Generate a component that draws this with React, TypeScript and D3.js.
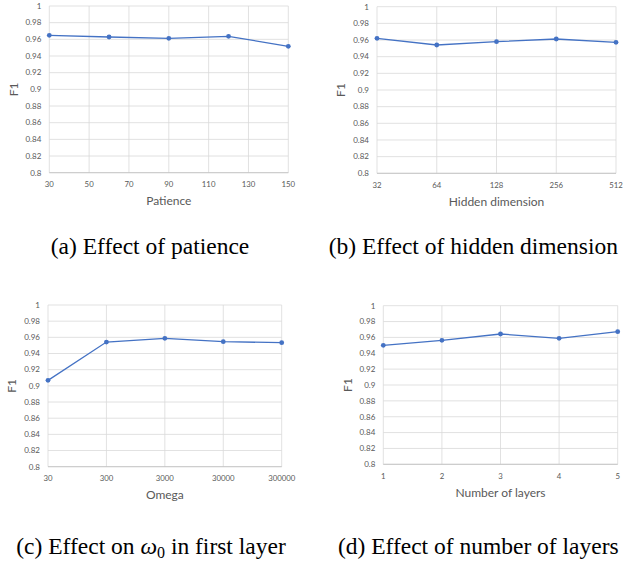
import * as d3 from 'd3';

const yTicks = [0.8, 0.82, 0.84, 0.86, 0.88, 0.9, 0.92, 0.94, 0.96, 0.98, 1];

const patience = [30, 60, 90, 120, 150];
const patienceTicks = [30, 50, 70, 90, 110, 130, 150];
const patienceF1 = [0.9648, 0.9628, 0.9612, 0.9636, 0.9516];

const hidden = ['32', '64', '128', '256', '512'];
const hiddenF1 = [0.962, 0.954, 0.958, 0.9612, 0.9572];

const omega = ['30', '300', '3000', '30000', '300000'];
const omegaF1 = [0.9068, 0.9542, 0.9588, 0.9546, 0.9534];

const layers = ['1', '2', '3', '4', '5'];
const layersF1 = [0.95, 0.9563, 0.9643, 0.9588, 0.9672];

const lineColor = '#4472C4';
const gridColor = '#d9d9d9';
const textColor = '#595959';
const chartFont = 'Lato, "Open Sans", sans-serif';

type Box = { left: number; right: number; top: number; bottom: number };

function Panel(props: {
  box: Box;
  title: string;
  xs: (string | number)[];
  values: number[];
  linear?: number[];
}) {
  const { box, title, xs, values, linear } = props;

  const y = d3.scaleLinear().domain([0.8, 1]).range([box.bottom, box.top]);

  let xPos: (d: any) => number;
  let tickVals: (string | number)[];
  if (linear) {
    const xl = d3.scaleLinear()
      .domain([linear[0], linear[linear.length - 1]])
      .range([box.left, box.right]);
    xPos = (d) => xl(d as number);
    tickVals = linear;
  } else {
    const xp = d3.scalePoint<string>()
      .domain(xs as string[])
      .range([box.left, box.right])
      .padding(0);
    xPos = (d) => xp(d as string) as number;
    tickVals = xs;
  }

  const pts: [number, number][] = xs.map((d, i) => [xPos(d), y(values[i])]);
  const line = d3.line();

  return (
    <g>
      {yTicks.map((t) => (
        <line key={`h${t}`} x1={box.left} x2={box.right} y1={y(t)} y2={y(t)}
          stroke={gridColor} strokeWidth={0.8} />
      ))}
      {tickVals.map((t) => (
        <line key={`v${t}`} x1={xPos(t)} x2={xPos(t)} y1={box.top} y2={box.bottom}
          stroke={gridColor} strokeWidth={0.8} />
      ))}
      <line x1={box.left} x2={box.right} y1={box.bottom} y2={box.bottom}
        stroke="#bfbfbf" strokeWidth={0.8} />
      {yTicks.map((t) => (
        <text key={`yl${t}`} x={box.left - 8} y={y(t)} dy="0.35em" textAnchor="end"
          fontSize={8} fill={textColor} fontFamily={chartFont}>
          {d3.format('~g')(t)}
        </text>
      ))}
      {tickVals.map((t) => (
        <text key={`xl${t}`} x={xPos(t)} y={box.bottom + 11.5} dy="0.35em" textAnchor="middle"
          fontSize={7.8} fill={textColor} fontFamily={chartFont}>
          {t}
        </text>
      ))}
      <text x={(box.left + box.right) / 2} y={box.bottom + 28} dy="0.35em" textAnchor="middle"
        fontSize={12} fill={textColor} fontFamily={chartFont}>
        {title}
      </text>
      <text transform={`translate(${box.left - 36},${(box.top + box.bottom) / 2}) rotate(-90)`}
        dy="0.35em" textAnchor="middle" fontSize={12} fill={textColor} fontFamily={chartFont}>
        F1
      </text>
      <path d={line(pts) as string} fill="none" stroke={lineColor} strokeWidth={1.3} />
      {pts.map((p, i) => (
        <circle key={i} cx={p[0]} cy={p[1]} r={2.4} fill={lineColor} />
      ))}
    </g>
  );
}

const captionFont = '"Liberation Serif", "Times New Roman", serif';
const capSize = 23.5;

export default function App() {
  return (
    <svg width={635} height={561} style={{ position: 'absolute', left: 0, top: 0, background: '#fff' }}>
      <Panel box={{ left: 49.3, right: 288.3, top: 6, bottom: 172.7 }} title="Patience"
        xs={patience} values={patienceF1} linear={patienceTicks} />
      <Panel box={{ left: 377, right: 616, top: 6.7, bottom: 173.3 }} title="Hidden dimension"
        xs={hidden} values={hiddenF1} />
      <Panel box={{ left: 48, right: 281.7, top: 305, bottom: 466.7 }} title="Omega"
        xs={omega} values={omegaF1} />
      <Panel box={{ left: 383.3, right: 617.7, top: 305.7, bottom: 464.3 }} title="Number of layers"
        xs={layers} values={layersF1} />

      <text x={150} y={254} textAnchor="middle" fontSize={capSize} fontFamily={captionFont}>
        (a) Effect of patience
      </text>
      <text x={473.3} y={254} textAnchor="middle" fontSize={capSize} fontFamily={captionFont}>
        (b) Effect of hidden dimension
      </text>
      <text x={151} y={554} textAnchor="middle" fontSize={capSize} fontFamily={captionFont}>
        (c) Effect on <tspan fontStyle="italic">ω</tspan><tspan fontSize={16} dy="3.5">0</tspan>
        <tspan dy="-3.5"> in first layer</tspan>
      </text>
      <text x={478.3} y={554} textAnchor="middle" fontSize={capSize} fontFamily={captionFont}>
        (d) Effect of number of layers
      </text>
    </svg>
  );
}
